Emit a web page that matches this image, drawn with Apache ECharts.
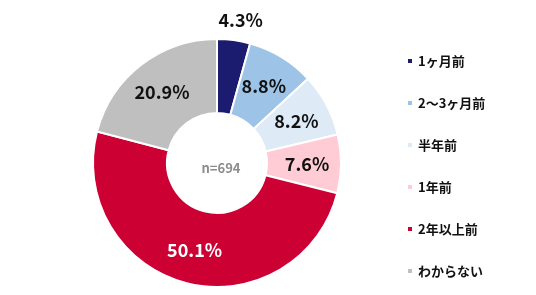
<!DOCTYPE html>
<html><head><meta charset="utf-8">
<script src="https://cdn.jsdelivr.net/npm/echarts@6/dist/echarts.min.js"></script>
<style>html,body{margin:0;padding:0;background:#fff}#c{width:536px;height:295px}</style>
</head><body><div id="c"></div>
<script>
const categories = ['1ヶ月前','2～3ヶ月前','半年前','1年前','2年以上前','わからない'];
const values = [4.3, 8.8, 8.2, 7.6, 50.1, 20.9];
const colors = ['#1b1b6f','#9dc3e6','#deebf7','#ffccd5','#cc0033','#bfbfbf'];
const labelColors = ['#111','#111','#111','#111','#fff','#111'];
const sampleText = 'n=694';

const font = '"Noto Sans CJK JP", "Noto Sans", sans-serif';
const chart = echarts.init(document.getElementById('c'));
const data = categories.map((name, i) => {
  const d = {name, value: values[i], itemStyle: {color: colors[i]}, label: {color: labelColors[i]}};
  if (i === 0) {
    d.label.position = 'outside';
    d.labelLine = {show: false, length: 20, length2: -23};
  }
  return d;
});
chart.setOption({
  animation: false,
  title: {text: sampleText, left: 216, top: 163, textAlign: 'center', textVerticalAlign: 'middle',
    textStyle: {color: '#8c8c8c', fontSize: 13, fontWeight: 'bold', fontFamily: font}},
  legend: {
    orient: 'vertical', left: 406, top: 54, padding: 0, icon: 'rect', itemWidth: 6, itemHeight: 6, itemGap: 28,
    data: categories,
    textStyle: {fontSize: 13, fontWeight: 'bold', color: '#111', fontFamily: font, lineHeight: 14}
  },
  series: [{
    type: 'pie', center: [217, 163], radius: [50, 124], startAngle: 90, clockwise: true,
    avoidLabelOverlap: false,
    itemStyle: {borderColor: '#fff', borderWidth: 2},
    label: {show: true, position: 'inside', formatter: p => p.value.toFixed(1) + '%',
      fontSize: 18, fontWeight: 'bold', fontFamily: font},
    labelLine: {show: false},
    data
  }]
});
</script></body></html>
